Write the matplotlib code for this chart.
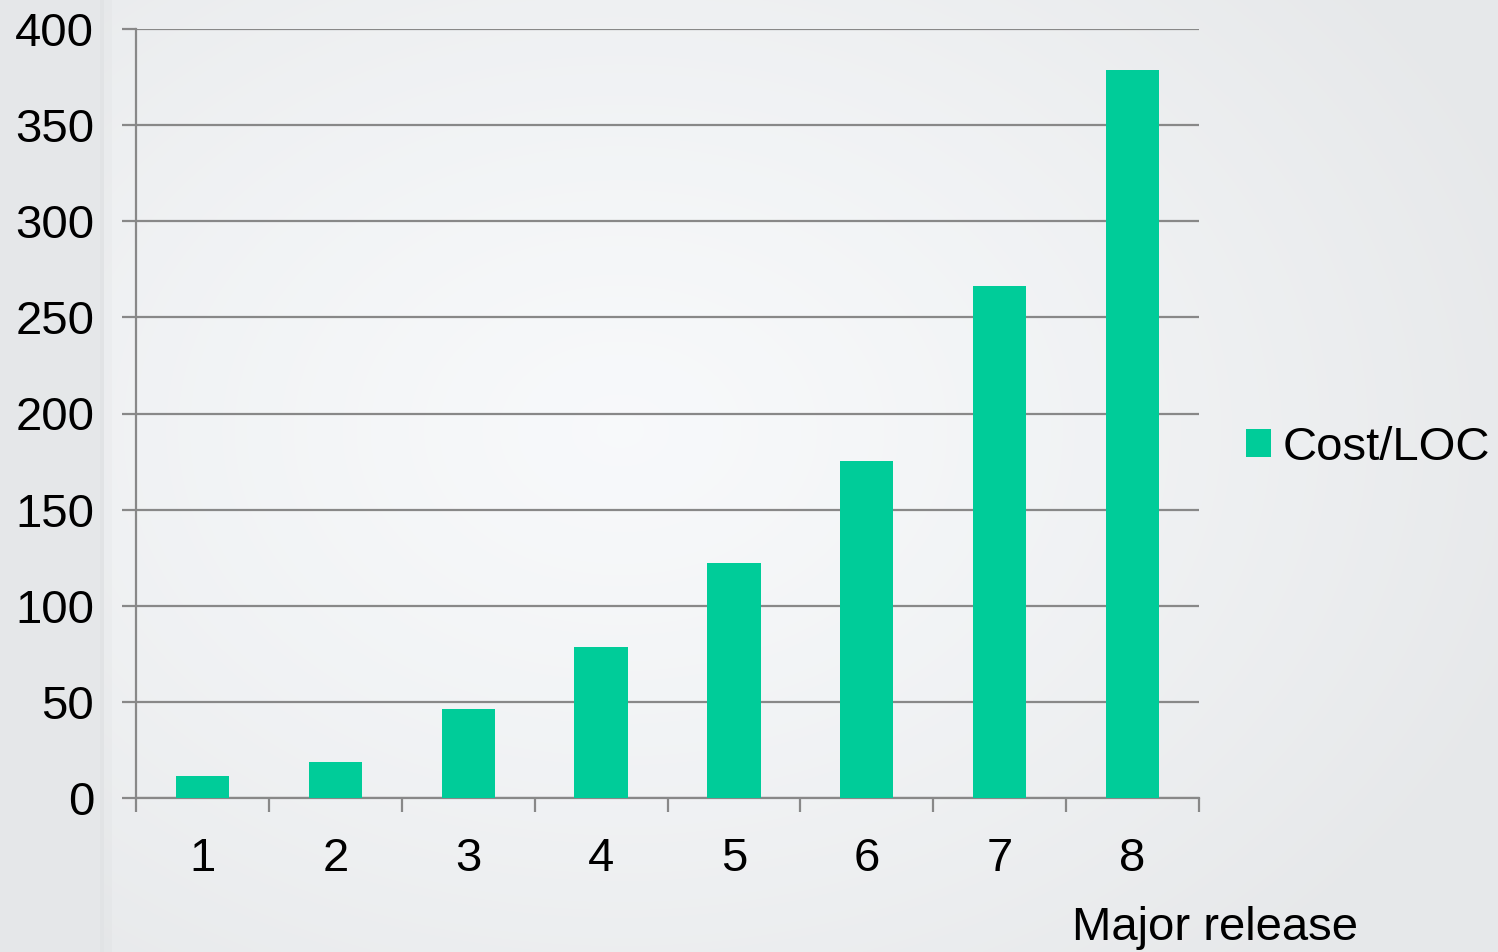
import numpy as np
import matplotlib.pyplot as plt

# data
releases = ['1', '2', '3', '4', '5', '6', '7', '8']
cost_per_loc = [11.5, 18.7, 46.5, 78.5, 122.3, 175.5, 266.5, 378.7]

bar_color = '#00CC99'
grid_color = '#888888'
font_size = 34

plt.rcParams['font.family'] = ['Liberation Sans', 'DejaVu Sans']

fig = plt.figure(figsize=(14.98, 9.52), dpi=100)

# soft radial background like the slide
bg = fig.add_axes([0, 0, 1, 1], zorder=-10)
h, w = 952, 1498
yy, xx = np.mgrid[0:h, 0:w]
r = np.sqrt(((xx - 620) / 950.0) ** 2 + ((yy - 430) / 700.0) ** 2)
light = np.clip(r, 0, 1) ** 1.3
shade = 0.98 - 0.065 * light
shade[:, :104] = 0.91
edge = (xx >= 100) & (xx < 112)
shade[edge] = shade[edge] - 0.015
img = np.dstack([shade - 0.01, shade - 0.003, shade + 0.004])
bg.imshow(np.clip(img, 0, 1), aspect='auto', extent=[0, 1, 0, 1])
bg.axis('off')

ax = fig.add_axes([136 / 1498, 1 - 798 / 952, 1063 / 1498, 769 / 952])
ax.patch.set_alpha(0)

x = np.arange(1, len(releases) + 1)
bars = ax.bar(x, cost_per_loc, width=0.4, color=bar_color, zorder=3, label='Cost/LOC')

ax.set_xlim(0.5, len(releases) + 0.5)
ax.set_ylim(0, 400)
ax.set_yticks(np.arange(0, 401, 50))
ax.yaxis.grid(True, color=grid_color, linewidth=1.6, zorder=0)

# ticks between categories, labels centred on bars
ax.set_xticks(np.arange(0.5, len(releases) + 1, 1.0))
ax.set_xticklabels([])
ax.set_xticks(x, minor=True)
ax.set_xticklabels(releases, minor=True)
ax.tick_params(axis='x', which='major', direction='out', length=10, width=1.6, color=grid_color)
ax.tick_params(axis='x', which='minor', length=0, pad=28, labelsize=font_size)
ax.tick_params(axis='y', direction='out', length=10, width=1.6, color=grid_color,
               pad=20, labelsize=font_size)

for side in ['top', 'right']:
    ax.spines[side].set_visible(False)
for side in ['left', 'bottom']:
    ax.spines[side].set_color(grid_color)
    ax.spines[side].set_linewidth(1.6)

fig.text(1215 / 1498, 1 - 940 / 952, 'Major release', ha='center', va='baseline',
         fontsize=font_size)

ax.legend(loc='center left', bbox_to_anchor=(1222 / 1498, 1 - 448 / 952),
          bbox_transform=fig.transFigure, frameon=False, fontsize=font_size,
          handlelength=0.53, handleheight=0.53, handletextpad=0.25, borderpad=0)

fig.savefig('out.png', dpi=100)
